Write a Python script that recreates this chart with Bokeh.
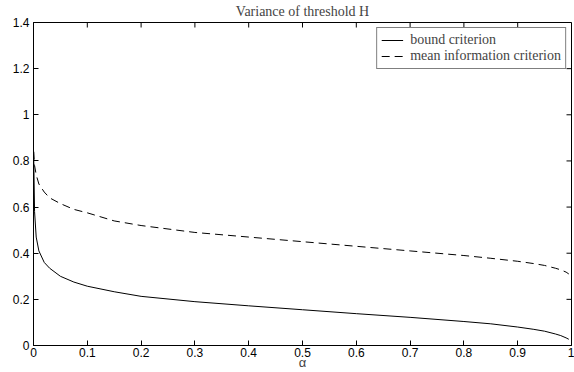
import math
from bokeh.plotting import figure
from bokeh.models import LinearAxis, FixedTicker, Range1d, Legend, LegendItem
from bokeh.embed import file_html
from bokeh.resources import INLINE

alpha = [0.0005, 0.002, 0.005, 0.01, 0.02, 0.03, 0.05, 0.075, 0.1, 0.15, 0.2,
         0.3, 0.4, 0.5, 0.6, 0.7, 0.8, 0.85, 0.9, 0.93, 0.95, 0.97, 0.98, 0.99, 0.995]
bound_criterion = [0.80, 0.58, 0.47, 0.41, 0.36, 0.335, 0.30, 0.275, 0.257, 0.233, 0.213,
                   0.19, 0.172, 0.155, 0.138, 0.122, 0.104, 0.094, 0.08, 0.07, 0.062, 0.05,
                   0.043, 0.033, 0.027]
mean_info_criterion = [0.84, 0.78, 0.74, 0.70, 0.665, 0.64, 0.615, 0.59, 0.575, 0.54, 0.52,
                       0.49, 0.47, 0.45, 0.43, 0.41, 0.39, 0.378, 0.365, 0.355, 0.347, 0.335,
                       0.328, 0.318, 0.31]

x_ticks = [0, 0.1, 0.2, 0.3, 0.4, 0.5, 0.6, 0.7, 0.8, 0.9, 1.0]
x_tick_labels = ["0", "0.1", "0.2", "0.3", "0.4", "0.5", "0.6", "0.7", "0.8", "0.9", "1"]
y_ticks = [0, 0.2, 0.4, 0.6, 0.8, 1.0, 1.2, 1.4]
y_tick_labels = ["0", "0.2", "0.4", "0.6", "0.8", "1", "1.2", "1.4"]

X_MIN, X_MAX = 0, 1
Y_MIN, Y_MAX = 0, 1.4

p = figure(width=574, height=372, output_backend="svg", toolbar_location=None,
           x_range=Range1d(X_MIN, X_MAX), y_range=Range1d(Y_MIN, Y_MAX),
           min_border_left=33, min_border_right=3, min_border_top=22, min_border_bottom=24,
           x_axis_location=None, y_axis_location=None)
p.title.text = "Variance of threshold H"
p.title.align = "center"
p.title.vertical_align = "top"
p.title.text_font = "Liberation Serif"
p.title.text_font_size = "14px"
p.title.text_font_style = "normal"
p.title.offset = 0
p.title.standoff = 3
p.grid.visible = False
p.outline_line_color = "black"
p.outline_line_width = 1
p.background_fill_color = "white"
p.border_fill_color = "white"

xb = LinearAxis(ticker=FixedTicker(ticks=x_ticks),
                major_label_overrides={t: l for t, l in zip(x_ticks, x_tick_labels)})
xb.axis_label = "α"
xb.axis_label_text_font = "Liberation Sans"
xb.axis_label_text_font_size = "13px"
xb.axis_label_text_font_style = "normal"
xb.axis_label_text_line_height = 0.8
xb.axis_label_standoff = -5
yl = LinearAxis(ticker=FixedTicker(ticks=y_ticks),
                major_label_overrides={t: l for t, l in zip(y_ticks, y_tick_labels)})

for ax in (xb, yl):
    ax.major_tick_in = 5
    ax.major_tick_out = 0
    ax.minor_tick_line_color = None
    ax.axis_line_color = "black"
    ax.axis_line_width = 1
    ax.major_tick_line_color = "black"
    ax.major_label_text_font = "Liberation Sans"
    ax.major_label_text_color = "black"
    ax.major_label_text_font_size = "12px"
xb.major_label_standoff = 2
yl.major_label_standoff = 4
yl.major_label_orientation = "horizontal"

p.add_layout(xb, "below")
p.add_layout(yl, "left")

# mirrored inward ticks on the top and right edges
p.ray(x=x_ticks, y=Y_MAX, length=5, length_units="screen", angle=-math.pi / 2,
      line_color="black", line_width=1)
p.ray(x=X_MAX, y=y_ticks, length=5, length_units="screen", angle=math.pi,
      line_color="black", line_width=1)

r1 = p.line(alpha, bound_criterion, line_color="black", line_width=1)
r2 = p.line(alpha, mean_info_criterion, line_color="black", line_width=1, line_dash="8 5")

legend = Legend(items=[LegendItem(label="bound criterion", renderers=[r1]),
                       LegendItem(label="mean information criterion", renderers=[r2])],
                location="top_right")
legend.label_text_font = "Liberation Serif"
legend.label_text_font_size = "14px"
legend.label_height = 10
legend.glyph_height = 10
legend.glyph_width = 22
legend.spacing = -3
legend.padding = 4
legend.margin = 5
legend.label_standoff = 7
legend.border_line_color = "black"
legend.border_line_width = 1
legend.background_fill_alpha = 1
p.add_layout(legend)

open("out.html", "w").write(file_html(p, INLINE))
